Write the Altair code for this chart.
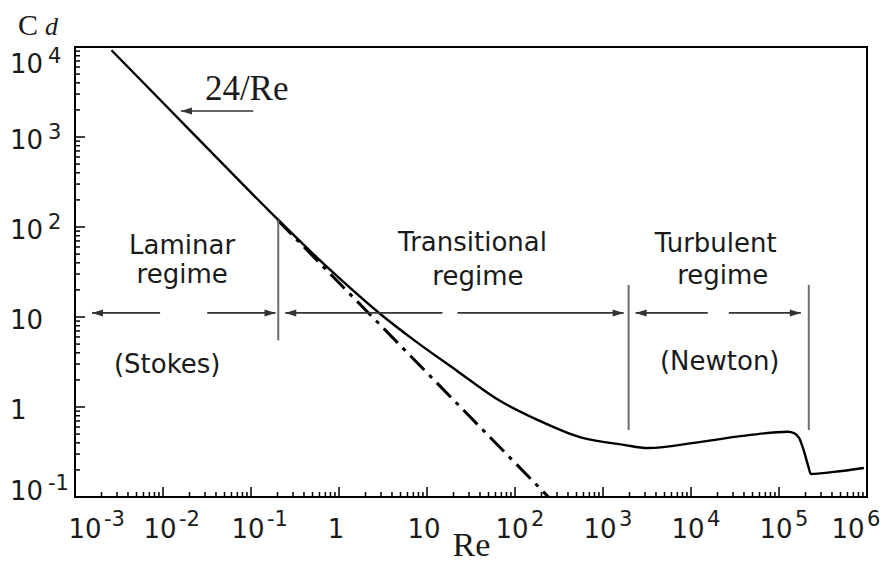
import altair as alt
import pandas as pd

# ---------------- data ----------------
# Standard drag curve C_d(Re)
curve_re = [0.0026, 0.01, 0.05, 0.2, 0.5, 1.03, 2.95, 7.0, 22.2, 63, 180, 556,
            1715, 3214, 12900, 47600, 126000, 150000, 170000, 191000, 215000,
            230000, 421000, 922000]
curve_cd = [9200, 2400, 480, 122, 51, 26.5, 10.8, 5.6, 2.5, 1.22, 0.72, 0.46,
            0.38, 0.35, 0.41, 0.49, 0.53, 0.51, 0.45, 0.33, 0.22,
            0.18, 0.19, 0.21]

# Stokes law 24/Re (dash-dot extension)
stokes_re = [0.2, 240]
stokes_cd = [120, 0.1]

# Regime boundaries (vertical lines)
bound_re = [0.204, 1955, 218000]
bound_top = [120, 22.7, 22.7]
bound_bottom = [5.5, 0.555, 0.555]

# Double-arrow segments of the regimes (level Cd ~ 11)
arrow_level = 11.1
seg_start = [0.00156, 0.0318, 0.245, 22.2, 2350, 26900]
seg_end = [0.00927, 0.19, 15.0, 1715, 15500, 177000]
tips_left = [0.00156, 0.245, 2350]
tips_right = [0.19, 1715, 177000]

# "24/Re" pointer arrow
pointer_start = [0.016]
pointer_end = [0.106]
pointer_cd = [1945]

# Annotation texts
regime_text = ["Laminar", "regime", "(Stokes)",
               "Transitional", "regime",
               "Turbulent", "regime", "(Newton)"]
regime_re = [0.0165, 0.0165, 0.01115, 32.9, 37.9, 19100, 22950, 21200]
regime_cd = [50.0, 24.0, 2.39, 53.5, 22.5, 52.5, 23.5, 2.58]

formula_text = ["24/Re"]
formula_re = [0.0893]
formula_cd = [2578]

# Axis ticks and labels
x_decades = [-3, -2, -1, 0, 1, 2, 3, 4, 5, 6]
x_base = ["10", "10", "10", "1", "10", "10", "10", "10", "10", "10"]
x_exp = ["-3", "-2", "-1", "", "", "2", "3", "4", "5", "6"]
y_decades = [-1, 0, 1, 2, 3, 4]
y_base = ["10", "1", "10", "10", "10", "10"]
y_exp = ["-1", "", "", "2", "3", "4"]

# ---------------- frames ----------------
curve_df = pd.DataFrame({"re": curve_re, "cd": curve_cd})
stokes_df = pd.DataFrame({"re": stokes_re, "cd": stokes_cd})
bound_df = pd.DataFrame({"re": bound_re, "top": bound_top, "bottom": bound_bottom})
seg_df = pd.DataFrame({"s": seg_start + pointer_start,
                       "e": seg_end + pointer_end,
                       "cd": [arrow_level] * len(seg_start) + pointer_cd})
tl_df = pd.DataFrame({"re": tips_left + pointer_start,
                      "cd": [arrow_level] * len(tips_left) + pointer_cd})
tr_df = pd.DataFrame({"re": tips_right, "cd": [arrow_level] * len(tips_right)})
regime_df = pd.DataFrame({"t": regime_text, "re": regime_re, "cd": regime_cd})
formula_df = pd.DataFrame({"t": formula_text, "re": formula_re, "cd": formula_cd})

x_major = [10.0 ** d for d in x_decades]
x_minor = [m * 10.0 ** d for d in x_decades[:-1] for m in range(2, 10)]
y_major = [10.0 ** d for d in y_decades]
y_minor = [m * 10.0 ** d for d in y_decades[:-1] for m in range(2, 10)]

XMIN, XMAX = 1e-3, 1e6
YMIN, YMAX = 0.1, 1e4

xlab_df = pd.DataFrame({"re": x_major, "cd": [YMIN] * len(x_major),
                        "base": x_base, "exp": x_exp,
                        "pos": ["first"] + ["mid"] * (len(x_major) - 2) + ["last"]})
ylab_df = pd.DataFrame({"re": [XMIN] * len(y_major), "cd": y_major,
                        "base": y_base, "exp": y_exp,
                        "pos": ["first"] + ["mid"] * (len(y_major) - 2) + ["last"]})

xtick_maj = pd.DataFrame({"re": x_major, "cd": [YMIN] * len(x_major)})
xtick_min = pd.DataFrame({"re": x_minor, "cd": [YMIN] * len(x_minor)})
ytick_maj = pd.DataFrame({"re": [XMIN] * len(y_major), "cd": y_major})
ytick_min = pd.DataFrame({"re": [XMIN] * len(y_minor), "cd": y_minor})

# ---------------- scales / helpers ----------------
xs = alt.Scale(type="log", domain=[XMIN, XMAX], nice=False)
ys = alt.Scale(type="log", domain=[YMIN, YMAX], nice=False)


def X(f):
    return alt.X(f, type="quantitative", scale=xs, axis=None)


def Y(f):
    return alt.Y(f, type="quantitative", scale=ys, axis=None)


SANS = "DejaVu Sans"
SERIF = "Liberation Serif"
INK = "#1a1a1a"

layers = []

# ticks (inside the frame)
for df, path, size in [(xtick_maj, "M0,0L0,-1", 400), (xtick_min, "M0,0L0,-1", 100),
                       (ytick_maj, "M0,0L1,0", 400), (ytick_min, "M0,0L1,0", 100)]:
    layers.append(alt.Chart(df).mark_point(shape=path, size=size, filled=False,
                                           color="black", strokeWidth=1.5, opacity=1)
                  .encode(x=X("re"), y=Y("cd")))

# curves
layers.append(alt.Chart(curve_df).mark_line(color="black", strokeWidth=2.4,
                                            interpolate="monotone")
              .encode(x=X("re"), y=Y("cd")))
layers.append(alt.Chart(stokes_df).mark_line(color="black", strokeWidth=3,
                                             strokeDash=[20, 7, 4, 7])
              .encode(x=X("re"), y=Y("cd")))

# regime boundaries
layers.append(alt.Chart(bound_df).mark_rule(color="#6e6e6e", strokeWidth=2)
              .encode(x=X("re"), y=Y("top"), y2="bottom"))

# arrows
layers.append(alt.Chart(seg_df).mark_rule(color="#333333", strokeWidth=1.6)
              .encode(x=X("s"), x2="e", y=Y("cd")))
layers.append(alt.Chart(tl_df).mark_point(shape="M0,0L1,-0.32L1,0.32Z", size=484,
                                          filled=True, color="#333333", opacity=1,
                                          strokeWidth=0)
              .encode(x=X("re"), y=Y("cd")))
layers.append(alt.Chart(tr_df).mark_point(shape="M0,0L-1,-0.32L-1,0.32Z", size=484,
                                          filled=True, color="#333333", opacity=1,
                                          strokeWidth=0)
              .encode(x=X("re"), y=Y("cd")))

# annotation texts
layers.append(alt.Chart(regime_df).mark_text(font=SANS, fontSize=26, color=INK,
                                             align="center", baseline="alphabetic")
              .encode(x=X("re"), y=Y("cd"), text="t:N"))
layers.append(alt.Chart(formula_df).mark_text(font=SERIF, fontSize=35, color=INK,
                                              align="center", baseline="alphabetic")
              .encode(x=X("re"), y=Y("cd"), text="t:N"))

# x tick labels (base + superscript)
for pos, bdx in [("first", 10), ("mid", -3), ("last", -19)]:
    sub = alt.Chart(xlab_df).transform_filter(alt.datum.pos == pos)
    layers.append(sub.mark_text(font=SANS, fontSize=26, color=INK, align="center",
                                baseline="alphabetic", dx=bdx, dy=41)
                  .encode(x=X("re"), y=Y("cd"), text="base:N"))
    layers.append(sub.mark_text(font=SANS, fontSize=21, color=INK, align="left",
                                baseline="alphabetic", dx=bdx + 19, dy=29)
                  .encode(x=X("re"), y=Y("cd"), text="exp:N"))

# y tick labels (base + superscript)
for pos, bdy in [("first", 3), ("mid", 12), ("last", 26)]:
    sub = alt.Chart(ylab_df).transform_filter(alt.datum.pos == pos)
    layers.append(sub.mark_text(font=SANS, fontSize=26, color=INK, align="left",
                                baseline="alphabetic", dx=-65, dy=bdy)
                  .encode(x=X("re"), y=Y("cd"), text="base:N"))
    layers.append(sub.mark_text(font=SANS, fontSize=21, color=INK, align="left",
                                baseline="alphabetic", dx=-27, dy=bdy - 10)
                  .encode(x=X("re"), y=Y("cd"), text="exp:N"))

# axis titles
cd_title = pd.DataFrame({"re": [XMIN], "cd": [YMAX], "c": ["C"], "d": ["d"]})
layers.append(alt.Chart(cd_title).mark_text(font=SERIF, fontSize=30, color=INK,
                                            align="left", baseline="alphabetic",
                                            dx=-57, dy=-12)
              .encode(x=X("re"), y=Y("cd"), text="c:N"))
layers.append(alt.Chart(cd_title).mark_text(font=SERIF, fontSize=26, color=INK,
                                            fontStyle="italic", align="left",
                                            baseline="alphabetic", dx=-30, dy=-12)
              .encode(x=X("re"), y=Y("cd"), text="d:N"))
re_title = pd.DataFrame({"re": [32.0], "cd": [YMIN], "t": ["Re"]})
layers.append(alt.Chart(re_title).mark_text(font=SERIF, fontSize=34, color=INK,
                                            align="center", baseline="alphabetic",
                                            dy=59)
              .encode(x=X("re"), y=Y("cd"), text="t:N"))

chart = (alt.layer(*layers)
         .properties(width=792, height=450,
                     padding={"left": 67, "top": 39, "right": 13, "bottom": 66},
                     autosize=alt.AutoSizeParams(type="none"),
                     background="white")
         .configure_view(stroke="black", strokeWidth=2))

chart.save("out.html", embed_options={"renderer": "svg", "actions": False})
